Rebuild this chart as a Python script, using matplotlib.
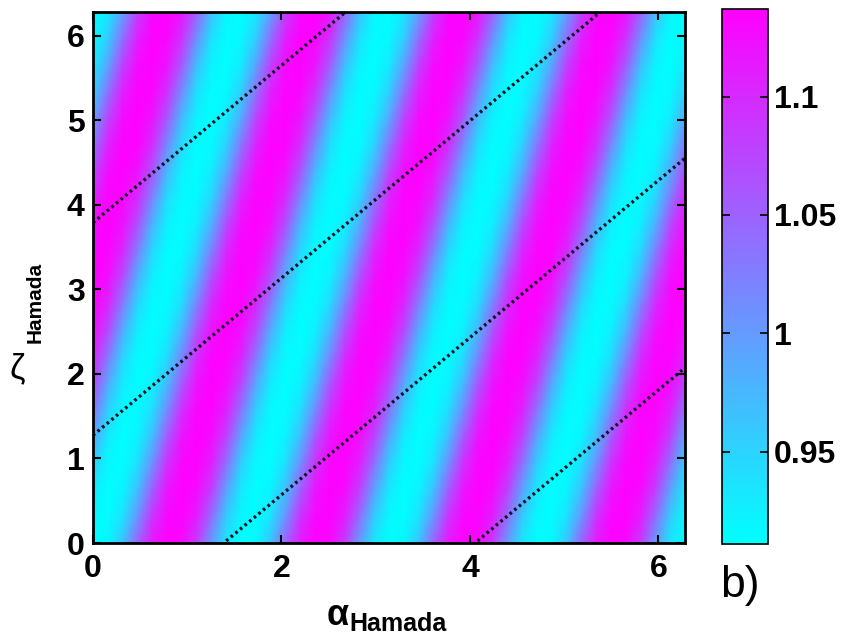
import numpy as np
import matplotlib
matplotlib.use("Agg")
import matplotlib.pyplot as plt

plt.rcParams["font.family"] = ["Liberation Sans", "DejaVu Sans"]

# axis ticks
alpha_ticks = [0, 2, 4, 6]
zeta_ticks = [0, 1, 2, 3, 4, 5, 6]
cbar_ticks = [0.95, 1.0, 1.05, 1.1]
cbar_labels = ["0.95", "1", "1.05", "1.1"]

# field: tilted periodic bands between these extremes
field_min = 0.911
field_max = 1.137
band_period = np.pi / 2
band_shear = 0.24      # alpha shift of a band per unit zeta
band_phase = 0.82      # alpha of the first maximum at zeta = 0
band_sharpness = 1.0

# dotted reference lines zeta = slope * alpha + intercept
line_slope = 0.93
line_intercepts = [3.79, 1.275, -1.29, -3.77]

two_pi = 2 * np.pi
alpha = np.linspace(0, two_pi, 41)
zeta = np.linspace(0, two_pi, 21)
A, Z = np.meshgrid(alpha, zeta)
s = np.cos(2 * np.pi * (A - band_shear * Z - band_phase) / band_period)
s = np.tanh(band_sharpness * s) / np.tanh(band_sharpness)
field = (field_min + field_max) / 2 + (field_max - field_min) / 2 * s

fig = plt.figure(figsize=(8.43, 6.36), dpi=100)
ax = fig.add_axes([0.1103, 0.1462, 0.7023, 0.835])
cax = fig.add_axes([0.8565, 0.1447, 0.0546, 0.841])

mesh = ax.pcolormesh(A, Z, field, cmap="cool", shading="gouraud",
                     vmin=field_min, vmax=field_max)

a_line = np.linspace(0, two_pi, 400)
for c in line_intercepts:
    ax.plot(a_line, line_slope * a_line + c, color="#111122",
            linestyle=(0, (0.8, 1.0)), linewidth=2.4)

ax.set_xlim(0, two_pi)
ax.set_ylim(0, two_pi)
ax.set_xticks(alpha_ticks)
ax.set_yticks(zeta_ticks)
ax.tick_params(direction="in", length=6, width=1.5, top=True, right=True,
               labelsize=23)
ax.tick_params(axis="x", pad=8)
ax.tick_params(axis="y", pad=6)
for lab in ax.get_xticklabels() + ax.get_yticklabels():
    lab.set_fontweight("bold")
for sp in ax.spines.values():
    sp.set_linewidth(2)

cb = fig.colorbar(mesh, cax=cax, ticks=cbar_ticks)
cb.ax.set_yticklabels(cbar_labels, fontsize=23, fontweight="bold")
cb.ax.tick_params(direction="in", length=6, width=1.2, left=True, right=True, pad=4)
cb.outline.set_linewidth(1.2)

# axis labels with subscripts
fig.text(0.400, 0.018, "α", fontsize=26, fontweight="bold", ha="center", va="baseline")
fig.text(0.415, 0.008, "Hamada", fontsize=18, fontweight="bold", ha="left", va="baseline")
fig.text(0.020, 0.421, "ζ", fontsize=25, ha="center", va="center")
fig.text(0.042, 0.524, "Hamada", fontsize=15, fontweight="bold", rotation=90,
         ha="center", va="center")
fig.text(0.8545, 0.062, "b)", fontsize=32, ha="left", va="baseline")

fig.savefig("out.png", dpi=100)
